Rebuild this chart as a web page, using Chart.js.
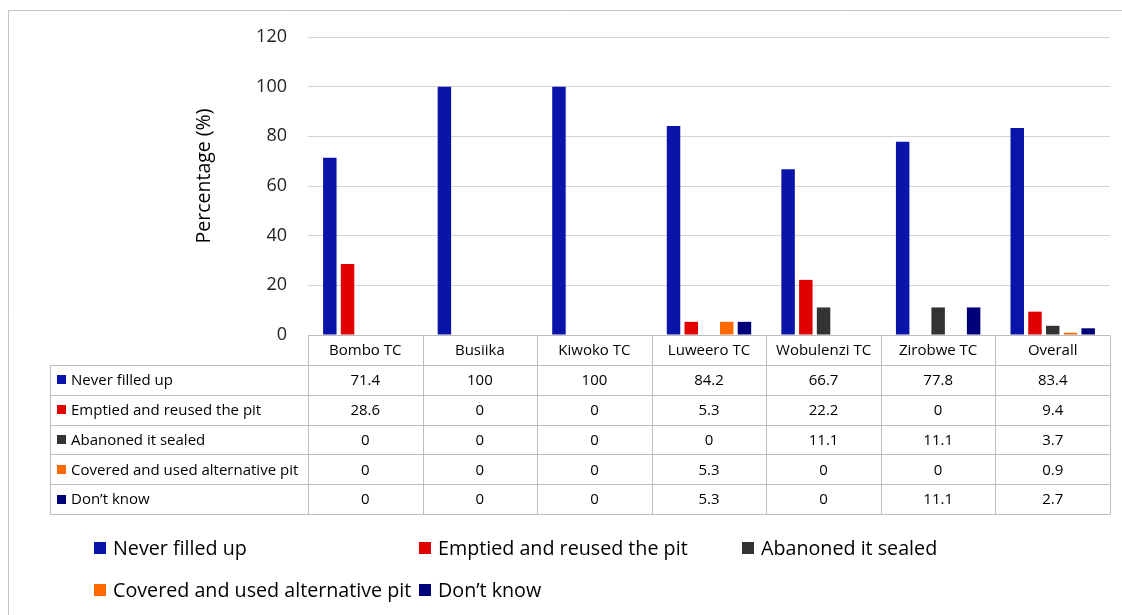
<!DOCTYPE html>
<html>
<head>
<meta charset="utf-8">
<title>Pit status by town council</title>
<script src="https://cdn.jsdelivr.net/npm/chart.js@4.4.1/dist/chart.umd.min.js"></script>
<style>
  html, body { margin: 0; padding: 0; background: #fff; }
  canvas { display: block; }
</style>
</head>
<body>
<canvas id="chart" width="1122" height="615"></canvas>
<script>
// Town councils (columns of the data table)
const categories = ['Bombo TC', 'Busiika', 'Kiwoko TC', 'Luweero TC', 'Wobulenzi TC', 'Zirobwe TC', 'Overall'];

// Percentage of households per outcome when the pit fills up
const neverFilled   = [71.4, 100, 100, 84.2, 66.7, 77.8, 83.4];
const emptiedReused = [28.6, 0, 0, 5.3, 22.2, 0, 9.4];
const abandonedSealed = [0, 0, 0, 0, 11.1, 11.1, 3.7];
const coveredAlt    = [0, 0, 0, 5.3, 0, 0, 0.9];
const dontKnow      = [0, 0, 0, 5.3, 0, 11.1, 2.7];

const seriesNames = [
  'Never filled up',
  'Emptied and reused the pit',
  'Abanoned it sealed',
  'Covered and used alternative pit',
  'Don\u2019t know'
];
const seriesColors = ['#0A14A8', '#E00000', '#333333', '#FF6A00', '#00007A'];
const seriesValues = [neverFilled, emptiedReused, abandonedSealed, coveredAlt, dontKnow];

const yTicks = [0, 20, 40, 60, 80, 100, 120];
const yTitle = 'Percentage (%)';

const FONT = '"Open Sans", "Noto Sans", sans-serif';
const LINE = '#BDBDBD';

// Data table under the plot, a legend below it, the axis title and the frame
const tablePlugin = {
  id: 'dataTable',
  afterDraw(chart) {
    const ctx = chart.ctx;
    const area = chart.chartArea;
    const x = chart.scales.x;
    const n = categories.length;
    const colW = (area.right - area.left) / n;
    const top = area.bottom;
    const headH = 30;
    const rowH = 29.8;
    const keyLeft = 50;
    const rows = chart.data.datasets.length;
    const tableBottom = top + headH + rows * rowH;

    ctx.save();
    // outer frame
    ctx.strokeStyle = '#C4C4C4';
    ctx.lineWidth = 1;
    ctx.beginPath();
    ctx.moveTo(8.5, 620);
    ctx.lineTo(8.5, 10.5);
    ctx.lineTo(1130, 10.5);
    ctx.stroke();

    // y axis title
    ctx.save();
    ctx.translate(204, 176);
    ctx.rotate(-Math.PI / 2);
    ctx.fillStyle = '#000';
    ctx.font = '19.5px ' + FONT;
    ctx.textAlign = 'center';
    ctx.textBaseline = 'middle';
    ctx.fillText(yTitle, 0, 0);
    ctx.restore();

    // grid of the table
    ctx.strokeStyle = LINE;
    ctx.lineWidth = 1;
    ctx.beginPath();
    const r = v => Math.round(v) + 0.5;
    ctx.moveTo(area.left, r(top));
    ctx.lineTo(area.right, r(top));
    for (let i = 0; i <= rows; i++) {
      const yy = r(top + headH + i * rowH);
      ctx.moveTo(keyLeft, yy);
      ctx.lineTo(area.right, yy);
    }
    for (let c = 0; c <= n; c++) {
      const xx = r(x.getPixelForValue(0) - colW / 2 + c * colW);
      ctx.moveTo(xx, r(top));
      ctx.lineTo(xx, r(tableBottom));
    }
    ctx.moveTo(keyLeft + 0.5, r(top + headH));
    ctx.lineTo(keyLeft + 0.5, r(tableBottom));
    ctx.stroke();

    // header: category names
    ctx.fillStyle = '#000';
    ctx.font = '15px ' + FONT;
    ctx.textAlign = 'center';
    ctx.textBaseline = 'middle';
    categories.forEach((cat, i) => {
      ctx.fillText(cat, x.getPixelForValue(i), top + headH / 2 + 1);
    });

    // rows: series key + values
    chart.data.datasets.forEach((ds, j) => {
      const cy = top + headH + (j + 0.5) * rowH + 1;
      ctx.fillStyle = ds.backgroundColor;
      ctx.fillRect(57, Math.round(cy - 5.5), 9, 9);
      ctx.fillStyle = '#000';
      ctx.textAlign = 'left';
      ctx.fillText(ds.label, 71, cy);
      ctx.textAlign = 'center';
      ds.data.forEach((v, i) => {
        ctx.fillText(String(v), x.getPixelForValue(i), cy);
      });
    });

    // legend below the table
    const legendCols = [94, 419, 742];
    const legendRows = [548, 590];
    ctx.font = '19.7px ' + FONT;
    ctx.textAlign = 'left';
    chart.data.datasets.forEach((ds, j) => {
      const lx = legendCols[j % 3];
      const ly = legendRows[Math.floor(j / 3)];
      ctx.fillStyle = ds.backgroundColor;
      ctx.fillRect(lx, ly - 6, 12, 12);
      ctx.fillStyle = '#000';
      ctx.fillText(ds.label, lx + 19, ly + 1);
    });
    ctx.restore();
  }
};

new Chart(document.getElementById('chart'), {
  type: 'bar',
  data: {
    labels: categories,
    datasets: seriesNames.map((name, i) => ({
      label: name,
      data: seriesValues[i],
      backgroundColor: seriesColors[i],
      borderWidth: 0,
      categoryPercentage: 0.774,
      barPercentage: 0.76
    }))
  },
  options: {
    responsive: false,
    devicePixelRatio: 1,
    animation: false,
    layout: { padding: { left: 0, right: 12, top: 37, bottom: 280 } },
    plugins: {
      legend: { display: false },
      tooltip: { enabled: false }
    },
    scales: {
      x: { display: false },
      y: {
        min: 0,
        max: 120,
        afterBuildTicks(scale) {
          scale.ticks = yTicks.map(v => ({ value: v }));
        },
        afterFit(scale) { scale.width = 308; },
        border: { display: false },
        grid: { color: '#D4D4D4', lineWidth: 1, drawTicks: false },
        ticks: {
          padding: 21,
          color: '#222',
          font: { family: FONT, size: 18 }
        }
      }
    }
  },
  plugins: [tablePlugin]
});
</script>
</body>
</html>
